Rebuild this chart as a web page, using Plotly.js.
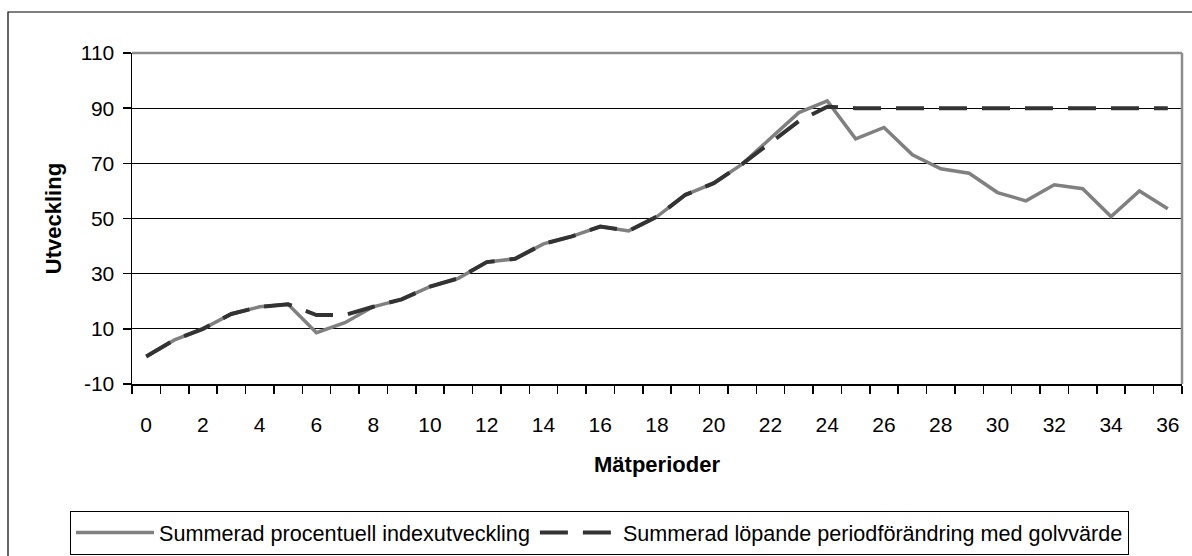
<!DOCTYPE html>
<html>
<head>
<meta charset="utf-8">
<script src="https://cdn.plot.ly/plotly-3.0.1.min.js"></script>
<style>
html,body{margin:0;padding:0;background:#fff;}
#chart{width:1192px;height:556px;}
</style>
</head>
<body>
<div id="chart"></div>
<script>
// ---- data ----
const periods = [0,1,2,3,4,5,6,7,8,9,10,11,12,13,14,15,16,17,18,19,20,21,22,23,24,25,26,27,28,29,30,31,32,33,34,35,36];
const indexSeries = [0,6,10,15.4,18,18.9,8.6,12.2,18,20.7,25.3,28.3,34.2,35.4,40.8,43.5,47.1,45.5,50.7,58.6,62.8,69.7,79.1,88.4,92.6,78.9,83,73.1,68,66.4,59.4,56.4,62.2,60.8,50.7,60,53.5];
const floorSeries = [0,6,10,15.4,18,18.9,15,15,18,20.7,25.3,28.3,34.2,35.4,40.8,43.5,47.1,45.5,50.7,58.6,62.8,69.7,77.5,85.3,90.5,90,90,90,90,90,90,90,90,90,90,90,90];
const seriesNames = ["Summerad procentuell indexutveckling","Summerad löpande periodförändring med golvvärde"];
const xTickVals = [0,2,4,6,8,10,12,14,16,18,20,22,24,26,28,30,32,34,36];
const yTickVals = [-10,10,30,50,70,90,110];
const yTickText = ["-10","10","30","50","70","90","110"];
const xTitle = "Mätperioder";
const yTitle = "Utveckling";

// ---- layout geometry ----
const W = 1192, H = 556;
const L = 132, R = 1182, T = 53, B = 384;
const pw = R - L, ph = B - T;
const px = x => (x - L) / pw;
const py = y => (B - y) / ph;
const FONT = '"Liberation Sans", Arial, Helvetica, sans-serif';

const traces = [
  {
    x: periods, y: indexSeries, name: seriesNames[0], type: 'scatter', mode: 'lines',
    line: {color: '#808080', width: 3.5}
  },
  {
    x: periods, y: floorSeries, name: seriesNames[1], type: 'scatter', mode: 'lines',
    line: {color: '#333333', width: 4, dash: '28px,15px'}
  }
];

const layout = {
  width: W, height: H,
  margin: {l: L, r: W - R, t: T, b: H - B, pad: 0, autoexpand: false},
  paper_bgcolor: '#ffffff', plot_bgcolor: '#ffffff',
  font: {family: FONT, color: '#000', size: 21},
  showlegend: true,
  hovermode: false,
  xaxis: {
    range: [-0.5, 36.5],
    tickmode: 'array', tickvals: xTickVals,
    ticks: '', showgrid: false, zeroline: false,
    showline: true, linecolor: '#000', linewidth: 1.5,
    minor: {tickmode: 'linear', tick0: -0.5, dtick: 1, ticks: 'outside', ticklen: 8, tickcolor: '#000', tickwidth: 1.5, showgrid: false},
    tickfont: {size: 21, family: FONT, color: '#000'},
    ticklabelstandoff: 21,
    title: {text: xTitle, font: {size: 22, family: FONT, weight: 'bold', color: '#000'}, standoff: 22},
    automargin: false
  },
  yaxis: {
    range: [-10, 110],
    tickmode: 'array', tickvals: yTickVals, ticktext: yTickText,
    ticks: 'outside', ticklen: 8, tickcolor: '#000', tickwidth: 1.5,
    showline: true, linecolor: '#000', linewidth: 1.5,
    showgrid: true, gridcolor: '#000', gridwidth: 1, zeroline: false,
    tickfont: {size: 21, family: FONT, color: '#000'},
    ticklabelstandoff: 4,
    title: {text: yTitle, font: {size: 22, family: FONT, weight: 'bold', color: '#000'}, standoff: 13},
    automargin: false
  },
  legend: {
    orientation: 'h',
    x: px(70), xanchor: 'left', y: py(511), yanchor: 'top',
    bordercolor: '#000', borderwidth: 1, bgcolor: '#fff',
    font: {size: 21.6, family: FONT, color: '#000'},
    itemwidth: 78, traceorder: 'normal'
  },
  shapes: [
    {type: 'line', xref: 'paper', yref: 'paper', x0: 0, x1: 1, y0: 1, y1: 1, line: {color: '#8c8c8c', width: 2.5}, layer: 'above'},
    {type: 'line', xref: 'paper', yref: 'paper', x0: 1, x1: 1, y0: 0, y1: 1, line: {color: '#8c8c8c', width: 2.5}, layer: 'above'},
    {type: 'rect', xref: 'paper', yref: 'paper', x0: px(8), x1: px(1300), y0: py(700), y1: py(12), line: {color: '#000', width: 1.2}, fillcolor: 'rgba(0,0,0,0)', layer: 'above'}
  ]
};

Plotly.newPlot('chart', traces, layout, {displayModeBar: false, staticPlot: true});
</script>
</body>
</html>
